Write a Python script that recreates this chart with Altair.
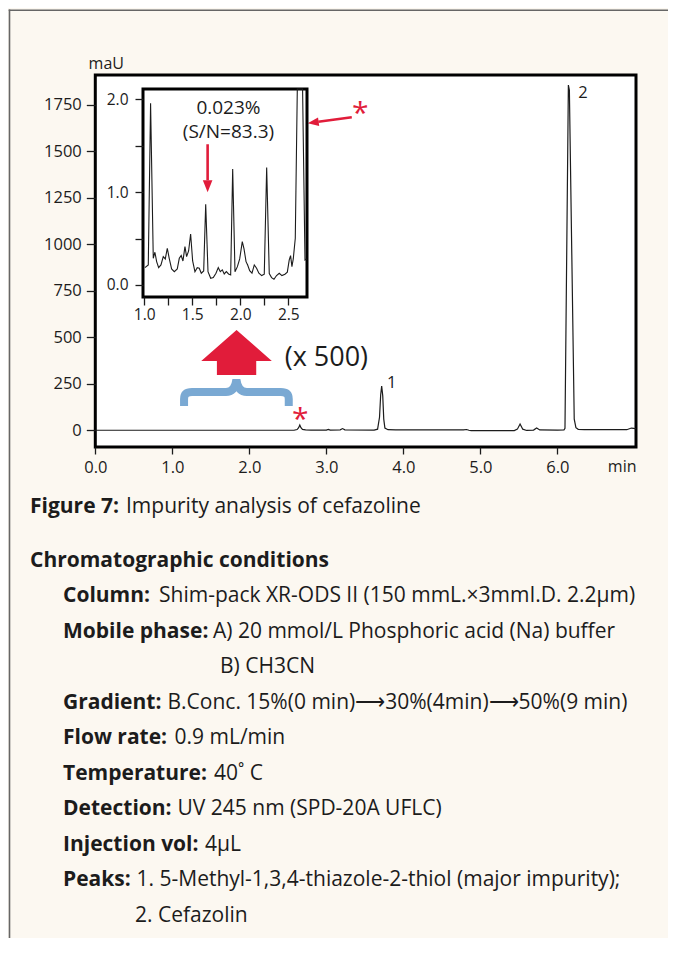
import altair as alt
import pandas as pd

# ---------------- data: main chromatogram (time in min, absorbance in mAU) ----------------
MAIN_T = [0.00, 2.58, 2.62, 2.64, 2.655, 2.67, 2.69, 2.73, 2.80,
          3.00, 3.025, 3.05, 3.18, 3.21, 3.24,
          3.62, 3.665, 3.69, 3.705, 3.718, 3.732, 3.745, 3.76, 3.80, 3.90,
          4.78, 4.82, 4.85, 4.88, 5.00,
          5.44, 5.48, 5.515, 5.55, 5.60, 5.69, 5.73, 5.77, 6.00,
          6.085, 6.098, 6.142, 6.155, 6.218, 6.24, 6.27, 6.35, 6.90, 6.96, 6.99, 7.02]
MAIN_MAU = [0, 0, 4, 14, 28, 14, 5, 2, 1,
            1, 5, 1, 2, 9, 2,
            1, 6, 70, 190, 238, 185, 60, 12, 3, 2,
            2, 4, 0, -2, -2,
            -2, 6, 34, 6, -1, 1, 12, 2, 1,
            2, 10, 1857, 1830, 60, 14, 5, 3, 3, 12, 10, 8]

# ---------------- data: inset (x 500) ----------------
INSET_T = [1.007, 1.042, 1.066, 1.094, 1.111, 1.129, 1.150, 1.174, 1.198, 1.219,
           1.240, 1.260, 1.285, 1.313, 1.344, 1.365, 1.385, 1.403, 1.424, 1.441,
           1.462, 1.483, 1.504, 1.528, 1.552, 1.573, 1.594, 1.619, 1.640, 1.664,
           1.692, 1.719, 1.747, 1.771, 1.792, 1.813, 1.833, 1.855, 1.878, 1.900,
           1.921, 1.945, 1.970, 1.994, 2.021, 2.039, 2.060, 2.077, 2.098, 2.122,
           2.146, 2.170, 2.194, 2.223, 2.250, 2.275, 2.302, 2.326, 2.351, 2.378,
           2.406, 2.434, 2.465, 2.490, 2.510, 2.524, 2.538, 2.552, 2.573, 2.594,
           2.620, 2.649, 2.674, 2.690]
INSET_MAU = [0.186, 0.215, 1.957, 0.287, 0.352, 0.251, 0.186, 0.215, 0.305, 0.280,
             0.395, 0.287, 0.172, 0.143, 0.172, 0.287, 0.316, 0.258, 0.413, 0.305,
             0.366, 0.549, 0.258, 0.143, 0.186, 0.180, 0.126, 0.151, 0.869, 0.143,
             0.072, 0.079, 0.126, 0.186, 0.143, 0.162, 0.118, 0.143, 0.118, 0.108,
             1.249, 0.143, 0.197, 0.280, 0.467, 0.388, 0.251, 0.215, 0.154, 0.126,
             0.215, 0.180, 0.126, 0.101, 0.115, 1.264, 0.122, 0.079, 0.061, 0.101,
             0.126, 0.101, 0.115, 0.137, 0.269, 0.316, 0.197, 0.280, 0.503, 12.0,
             28.0, 12.0, 0.269, 0.280]

# ---------------- axes ----------------
MAIN_X_TICKS = [0, 1, 2, 3, 4, 5, 6]
MAIN_Y_TICKS = [0, 250, 500, 750, 1000, 1250, 1500, 1750]
INSET_X_TICKS = [1.0, 1.25, 1.5, 1.75, 2.0, 2.25, 2.5]
INSET_Y_TICKS = [0.0, 0.5, 1.0, 1.5, 2.0]
MAIN_X_DOMAIN = [0.0, 7.02]
MAIN_Y_DOMAIN = [-90.0, 1911.0]
INSET_X_DOMAIN = [0.987, 2.695]
INSET_Y_DOMAIN = [-0.13, 2.11]
X_UNIT = "min"
Y_UNIT = "maU"

# ---------------- annotations ----------------
PEAK_LABELS = ["1", "2"]
PEAK_LABEL_T = [3.85, 6.33]
PEAK_LABEL_MAU = [229.0, 1786.0]
STAR_T = [2.66, 3.44]
STAR_MAU = [6.0, 1655.0]
ZOOM_TEXT = "(x 500)"
ZOOM_AT = [3.0, 345.0]
BIG_ARROW_AT = [1.834, 418.0]
BRACE_AT = [1.832, 205.6]
POINTER_FROM = [3.33, 1684.0]
POINTER_TO = [2.758, 1651.5]
INSET_NOTE = ["0.023%", "(S/N=83.3)"]
INSET_NOTE_AT = [1.877, 1.838]
INSET_ARROW_FROM = [1.66, 1.515]
INSET_ARROW_TO = [1.66, 0.998]

# ---------------- caption text ----------------
FIG_LABEL = "Figure 7:"
FIG_TEXT = "Impurity analysis of cefazoline"
HEADING = "Chromatographic conditions"
COND_LABELS = ["Column:", "Mobile phase:", "", "Gradient:", "Flow rate:",
               "Temperature:", "Detection:", "Injection vol:", "Peaks:", ""]
COND_VALUES = ["Shim-pack XR-ODS II (150 mmL.\u00d73mmI.D. 2.2\u00b5m)",
               "A) 20 mmol/L Phosphoric acid (Na) buffer",
               "B) CH3CN",
               "B.Conc. 15%(0 min)\u27f630%(4min)\u27f650%(9 min)",
               "0.9 mL/min",
               "40\u02da C",
               "UV 245 nm (SPD-20A UFLC)",
               "4\u00b5L",
               "1. 5-Methyl-1,3,4-thiazole-2-thiol (major impurity);",
               "2. Cefazolin"]

# ---------------- layout / style ----------------
W, H = 660, 930
FONT = "Open Sans"
INK = "#1c1c1c"
RED = "#e11c3a"
BLUE = "#7aa9d3"
CREAM = "#fcf8f1"
BORDER = "#666666"
CAPTION_SIZE = 21
TITLE_VALUE_X = 118
VALUE_X = [151.0, 205.0, 212.0, 159.5, 166.5, 206.0, 169.5, 197.0, 128.5, 127.0]

main_xs = alt.Scale(domain=MAIN_X_DOMAIN, range=[87.3, 628.0], nice=False, zero=False)
main_ys = alt.Scale(domain=MAIN_Y_DOMAIN, range=[439.0, 67.0], nice=False, zero=False)
inset_xs = alt.Scale(domain=INSET_X_DOMAIN, range=[135.0, 299.0], nice=False, zero=False)
inset_ys = alt.Scale(domain=INSET_Y_DOMAIN, range=[289.0, 81.0], nice=False, zero=False, clamp=True)

common_axis = dict(domain=False, grid=False, ticks=True, tickColor=INK, tickWidth=1.3,
                   labelColor=INK, labelFont=FONT, labelFlush=False, labelOverlap=False,
                   zindex=1)
title_style = dict(titleFont=FONT, titleFontWeight="normal", titleColor=INK,
                   titleAngle=0, titleAlign="center", titleBaseline="alphabetic")

main_xaxis = alt.Axis(orient="bottom", offset=439 - H, values=MAIN_X_TICKS, format=".1f",
                      tickSize=7, labelPadding=5, labelFontSize=16.5,
                      title=X_UNIT, titleX=613.7, titleY=24.7, titleFontSize=16,
                      **title_style, **common_axis)
main_yaxis = alt.Axis(orient="left", offset=-87.3, values=MAIN_Y_TICKS, format="d",
                      tickSize=9, labelPadding=5, labelFontSize=16.5,
                      title=Y_UNIT, titleX=10.5, titleY=60.3, titleFontSize=16,
                      **title_style, **common_axis)
inset_xaxis = alt.Axis(orient="bottom", offset=289 - H, values=INSET_X_TICKS,
                       labelExpr="abs(datum.value*2 - round(datum.value*2)) < 0.001 ? format(datum.value, '.1f') : ''",
                       tickSize=8, labelPadding=2, labelFontSize=15.5, title=None, **common_axis)
inset_yaxis = alt.Axis(orient="left", offset=-135, values=INSET_Y_TICKS,
                       labelExpr="abs(datum.value - round(datum.value)) < 0.001 ? format(datum.value, '.1f') : ''",
                       tickSize=8, labelPadding=7, labelFontSize=15.5, title=None, **common_axis)


def MX(f):
    return alt.X(f, type="quantitative", scale=main_xs, axis=main_xaxis)


def MY(f):
    return alt.Y(f, type="quantitative", scale=main_ys, axis=main_yaxis)


def IX(f):
    return alt.X(f, type="quantitative", scale=inset_xs, axis=inset_xaxis)


def IY(f):
    return alt.Y(f, type="quantitative", scale=inset_ys, axis=inset_yaxis)


HEAD_PATH = "M0,0L0.4,1L-0.4,1Z"
BIG_ARROW_PATH = "M0,-0.637L1,0.24L0.557,0.24L0.557,0.637L-0.557,0.637L-0.557,0.24L-1,0.24Z"
BRACE_PATH = ("M-1,0.267L-1,0.134Q-1,0 -0.847,0L-0.2,0Q-0.03,0 0,-0.24"
              "Q0.03,0 0.2,0L0.847,0Q1,0 1,0.134L1,0.267")

one = pd.DataFrame({"k": [0]})

# ---------- group A: main chromatogram ----------
border_left = alt.Chart(one).mark_rule(color=BORDER, strokeWidth=1.6).encode(
    x=alt.value(1.5), y=alt.value(1.5), y2=alt.value(H))
border_top = alt.Chart(one).mark_rule(color=BORDER, strokeWidth=1.6).encode(
    x=alt.value(0.7), x2=alt.value(W), y=alt.value(2.2))

main_frame = alt.Chart(pd.DataFrame({"t": [MAIN_X_DOMAIN[0]], "t2": [MAIN_X_DOMAIN[1]],
                                     "mau": [MAIN_Y_DOMAIN[0]], "mau2": [MAIN_Y_DOMAIN[1]]})
                       ).mark_rect(fill="white", stroke="black", strokeWidth=3).encode(
    x=MX("t"), x2="t2", y=MY("mau"), y2="mau2")

main_line = alt.Chart(pd.DataFrame({"t": MAIN_T, "mau": MAIN_MAU})).mark_line(
    color=INK, strokeWidth=1.2).encode(x=MX("t"), y=MY("mau"))

peak_text = alt.Chart(pd.DataFrame({"t": PEAK_LABEL_T, "mau": PEAK_LABEL_MAU, "lab": PEAK_LABELS})
                      ).mark_text(font=FONT, fontSize=16.5, color=INK, align="center",
                                  baseline="alphabetic").encode(x=MX("t"), y=MY("mau"), text="lab:N")

stars = alt.Chart(pd.DataFrame({"t": STAR_T, "mau": STAR_MAU, "lab": ["*", "*"]})
                  ).mark_text(font=FONT, fontSize=30, color=RED, align="center",
                              baseline="alphabetic").encode(x=MX("t"), y=MY("mau"), text="lab:N")

zoom_text = alt.Chart(pd.DataFrame({"t": [ZOOM_AT[0]], "mau": [ZOOM_AT[1]], "lab": [ZOOM_TEXT]})
                      ).mark_text(font=FONT, fontSize=27, color=INK, align="center",
                                  baseline="alphabetic").encode(x=MX("t"), y=MY("mau"), text="lab:N")

ptr_end = [POINTER_TO[0] + 0.24 * (POINTER_FROM[0] - POINTER_TO[0]),
           POINTER_TO[1] + 0.24 * (POINTER_FROM[1] - POINTER_TO[1])]
pointer = alt.Chart(pd.DataFrame({"t": [POINTER_FROM[0]], "mau": [POINTER_FROM[1]],
                                  "t2": [ptr_end[0]], "mau2": [ptr_end[1]]})
                    ).mark_rule(color=RED, strokeWidth=2.4).encode(
    x=MX("t"), y=MY("mau"), x2="t2", y2="mau2")
pointer_head = alt.Chart(pd.DataFrame({"t": [POINTER_TO[0]], "mau": [POINTER_TO[1]]})
                         ).mark_point(shape=HEAD_PATH, filled=True, color=RED, opacity=1,
                                      size=484, angle=262.2, strokeWidth=0).encode(
    x=MX("t"), y=MY("mau"))

big_arrow = alt.Chart(pd.DataFrame({"t": [BIG_ARROW_AT[0]], "mau": [BIG_ARROW_AT[1]]})
                      ).mark_point(shape=BIG_ARROW_PATH, filled=True, color=RED, opacity=1,
                                   size=4984, strokeWidth=0).encode(x=MX("t"), y=MY("mau"))

brace = alt.Chart(pd.DataFrame({"t": [BRACE_AT[0]], "mau": [BRACE_AT[1]]})
                  ).mark_point(shape=BRACE_PATH, filled=False, color=BLUE, opacity=1,
                               size=10962, strokeWidth=8).encode(x=MX("t"), y=MY("mau"))

group_main = alt.layer(border_left, border_top, main_frame, main_line, peak_text, stars,
                       zoom_text, pointer, pointer_head, big_arrow, brace)

# ---------- group B: inset ----------
inset_frame = alt.Chart(pd.DataFrame({"t": [INSET_X_DOMAIN[0]], "t2": [INSET_X_DOMAIN[1]],
                                      "mau": [INSET_Y_DOMAIN[0]], "mau2": [INSET_Y_DOMAIN[1]]})
                        ).mark_rect(fill="white", stroke="black", strokeWidth=3).encode(
    x=IX("t"), x2="t2", y=IY("mau"), y2="mau2")

inset_line = alt.Chart(pd.DataFrame({"t": INSET_T, "mau": INSET_MAU})).mark_line(
    color=INK, strokeWidth=1.1).encode(x=IX("t"), y=IY("mau"))

inset_note = alt.Chart(pd.DataFrame({"t": [INSET_NOTE_AT[0]], "mau": [INSET_NOTE_AT[1]]})
                       ).mark_text(font=FONT, fontSize=19, color=INK, align="center",
                                   baseline="alphabetic", lineHeight=23.5,
                                   text=INSET_NOTE).encode(x=IX("t"), y=IY("mau"))

ia_end = [INSET_ARROW_TO[0], INSET_ARROW_TO[1] + 0.25 * (INSET_ARROW_FROM[1] - INSET_ARROW_TO[1])]
inset_arrow = alt.Chart(pd.DataFrame({"t": [INSET_ARROW_FROM[0]], "mau": [INSET_ARROW_FROM[1]],
                                      "t2": [ia_end[0]], "mau2": [ia_end[1]]})
                        ).mark_rule(color=RED, strokeWidth=2.6).encode(
    x=IX("t"), y=IY("mau"), x2="t2", y2="mau2")
inset_head = alt.Chart(pd.DataFrame({"t": [INSET_ARROW_TO[0]], "mau": [INSET_ARROW_TO[1]]})
                       ).mark_point(shape=HEAD_PATH, filled=True, color=RED, opacity=1,
                                    size=576, angle=180, strokeWidth=0).encode(
    x=IX("t"), y=IY("mau"))

group_inset = alt.layer(inset_frame, inset_line, inset_note, inset_arrow, inset_head)

# ---------- group C: caption ----------
rows_y = alt.Scale(domain=[1, 11], range=[559.0, 913.7], nice=False, zero=False)

cap_title = alt.Chart(one).mark_text(font=FONT, fontSize=CAPTION_SIZE, fontWeight="bold", color=INK,
                                     align="left", baseline="alphabetic", text=FIG_LABEL).encode(
    x=alt.value(22), y=alt.value(505))
cap_title_text = alt.Chart(one).mark_text(font=FONT, fontSize=CAPTION_SIZE, color=INK, align="left",
                                          baseline="alphabetic", text=FIG_TEXT).encode(
    x=alt.value(TITLE_VALUE_X), y=alt.value(505))

heading = alt.Chart(pd.DataFrame({"row": [1], "lab": [HEADING]})).mark_text(
    font=FONT, fontSize=CAPTION_SIZE, fontWeight="bold", color=INK, align="left", baseline="alphabetic"
).encode(x=alt.value(22), y=alt.Y("row:Q", scale=rows_y, axis=None), text="lab:N")

cond = pd.DataFrame({"row": list(range(2, 2 + len(COND_LABELS))), "lab": COND_LABELS,
                     "val": COND_VALUES, "vx": VALUE_X})
cond_labels = alt.Chart(cond).mark_text(
    font=FONT, fontSize=CAPTION_SIZE, fontWeight="bold", color=INK, align="left", baseline="alphabetic"
).encode(x=alt.value(55), y=alt.Y("row:Q", scale=rows_y, axis=None), text="lab:N")
cond_values = alt.Chart(cond).mark_text(
    font=FONT, fontSize=CAPTION_SIZE, color=INK, align="left", baseline="alphabetic"
).encode(x=alt.X("vx:Q", scale=None), y=alt.Y("row:Q", scale=rows_y, axis=None), text="val:N")

group_caption = alt.layer(cap_title, cap_title_text, heading, cond_labels, cond_values)

chart = alt.layer(group_main, group_inset, group_caption).resolve_scale(
    x="independent", y="independent"
).properties(
    width=W, height=H,
    autosize=alt.AutoSizeParams(type="none"),
    padding={"left": 0, "top": 0, "right": 0, "bottom": 0},
).configure(background=CREAM).configure_view(strokeWidth=0)

chart.save("out.html", embed_options={"renderer": "svg", "actions": False})
